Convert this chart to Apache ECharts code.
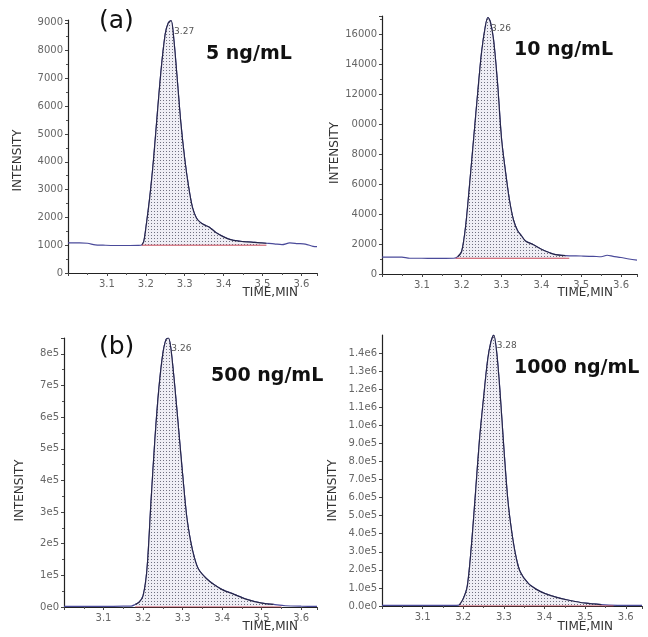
<!DOCTYPE html>
<html><head><meta charset="utf-8">
<script src="https://cdn.jsdelivr.net/npm/echarts@6/dist/echarts.min.js"></script>
<style>html,body{margin:0;padding:0;background:#fff}#c{width:648px;height:637px}</style>
</head><body><div id="c"></div>
<script>
// ---- data ----
const panelLabels = ['(a)', '(b)'];
const concLabels = ['5 ng/mL', '10 ng/mL', '500 ng/mL', '1000 ng/mL'];
const peakLabels = ['3.27', '3.26', '3.26', '3.28'];
const xTicks = ['3.0', '3.1', '3.2', '3.3', '3.4', '3.5', '3.6'];
const xName = 'TIME,MIN';
const yName = 'INTENSITY';

const t1 = [3.00,3.03,3.05,3.07,3.09,3.12,3.15,3.18,3.19,3.195,3.20,3.21,3.22,3.23,3.24,3.25,3.258,3.265,3.272,3.28,3.29,3.30,3.31,3.32,3.33,3.34,3.35,3.36,3.37,3.38,3.40,3.42,3.45,3.48,3.51,3.53,3.55,3.57,3.59,3.61,3.63,3.64];
const v1 = [1080,1080,1070,1010,1000,990,990,995,1010,1150,1600,2700,4100,5800,7400,8600,9000,9080,8400,7100,5400,4100,3100,2350,1980,1820,1730,1670,1570,1460,1300,1190,1130,1100,1070,1050,1020,1080,1060,1040,960,950];

const t2 = [3.00,3.02,3.05,3.07,3.10,3.13,3.16,3.18,3.19,3.20,3.21,3.22,3.23,3.24,3.25,3.26,3.266,3.272,3.28,3.29,3.30,3.31,3.32,3.33,3.34,3.35,3.36,3.38,3.40,3.43,3.46,3.50,3.53,3.55,3.565,3.58,3.60,3.62,3.64];
const v2 = [1130,1130,1120,1050,1050,1040,1040,1050,1150,1500,3200,6000,9000,12000,14800,16600,17100,16800,15600,12700,9000,6800,4900,3600,2900,2550,2200,1950,1650,1330,1220,1200,1180,1150,1250,1180,1100,1000,920];

const t3 = [3.00,3.05,3.10,3.15,3.17,3.18,3.19,3.20,3.21,3.22,3.23,3.24,3.25,3.258,3.264,3.27,3.28,3.29,3.30,3.31,3.32,3.33,3.34,3.36,3.38,3.40,3.43,3.46,3.50,3.53,3.56,3.60,3.64];
const v3 = [2000,2000,2000,2500,3000,8000,15000,35000,120000,330000,530000,690000,800000,845000,850000,820000,700000,560000,420000,290000,210000,155000,120000,90000,70000,55000,40000,25000,12000,8000,4000,2500,2000];

const t4 = [3.00,3.05,3.10,3.15,3.19,3.20,3.21,3.22,3.23,3.24,3.25,3.26,3.268,3.275,3.282,3.29,3.30,3.31,3.32,3.33,3.34,3.36,3.38,3.40,3.43,3.46,3.50,3.54,3.58,3.62,3.64];
const v4 = [3000,3000,3000,3000,5000,40000,110000,330000,620000,920000,1150000,1360000,1460000,1500000,1410000,1200000,870000,580000,400000,270000,190000,125000,92000,70000,48000,32000,16000,8000,4000,3000,3000];

const yTicks1 = ['0','1000','2000','3000','4000','5000','6000','7000','8000','9000'];
const yTicks2 = ['0','2000','4000','6000','8000','10000','12000','14000','16000'];
const yTicks3 = ['0e0','1e5','2e5','3e5','4e5','5e5','6e5','7e5','8e5'];
const yTicks4 = ['0.0e0','1.0e5','2.0e5','3.0e5','4.0e5','5.0e5','6.0e5','7.0e5','8.0e5','9.0e5','1.0e6','1.1e6','1.2e6','1.3e6','1.4e6'];

const peakRanges = [[3.19, 3.51], [3.185, 3.47], [3.18, 3.55], [3.19, 3.57]];
const baselines = [1000, 1050, 0, 0];

// ---- layout ----
const panels = [
  {t: t1, v: v1, ticks: yTicks1, step: 1000, max: 9100, grid: {left: 68, top: 20, width: 249, height: 253}, nameGap: 44, namePad: 28, xNamePos: [298, 287]},
  {t: t2, v: v2, ticks: yTicks2, step: 2000, max: 17200, grid: {left: 382, top: 16, width: 255, height: 258}, nameGap: 38, namePad: 16, xNamePos: [613, 287]},
  {t: t3, v: v3, ticks: yTicks3, step: 100000, max: 850000, grid: {left: 64, top: 338, width: 253, height: 269}, nameGap: 38, namePad: 36, xNamePos: [298, 621]},
  {t: t4, v: v4, ticks: yTicks4, step: 100000, max: 1500000, grid: {left: 382, top: 335, width: 260, height: 271}, nameGap: 43, namePad: 40, xNamePos: [613, 621]}
];

// stipple pattern
const pc = document.createElement('canvas');
pc.width = 3; pc.height = 3;
const pctx = pc.getContext('2d');
pctx.fillStyle = '#efeef5'; pctx.fillRect(0, 0, 3, 3);
pctx.fillStyle = '#707080'; pctx.fillRect(1, 1, 1, 1);

const chart = echarts.init(document.getElementById('c'), null, {renderer: 'canvas'});
const font = 'DejaVu Sans';
const grids = [], xAxes = [], yAxes = [], series = [], graphics = [];
panels.forEach((p, i) => {
  grids.push(Object.assign({containLabel: false}, p.grid));
  xAxes.push({
    type: 'value', gridIndex: i, min: 3.0, max: 3.64, interval: 0.1,
    axisLine: {lineStyle: {color: '#222', width: 1.2}},
    axisTick: {length: 3, lineStyle: {color: '#444'}},
    minorTick: {show: true, splitNumber: 2, length: 2, lineStyle: {color: '#555'}},
    splitLine: {show: false},
    axisLabel: {showMinLabel: false, showMaxLabel: false, fontFamily: font, fontSize: 10, color: '#666', margin: 6,
      formatter: v => xTicks[Math.round((v - 3.0) / 0.1)] || ''}
  });
  yAxes.push({
    type: 'value', gridIndex: i, min: 0, max: p.max, interval: p.step,
    name: yName, nameLocation: 'middle', nameGap: p.nameGap,
    nameTextStyle: {fontFamily: font, fontSize: 12, color: '#333', padding: [0, p.namePad, 0, 0]},
    axisLine: {show: true, lineStyle: {color: '#222', width: 1.2}},
    axisTick: {show: true, length: 3, lineStyle: {color: '#444'}},
    minorTick: {show: i !== 3, splitNumber: 2, length: 2, lineStyle: {color: '#555'}},
    splitLine: {show: false},
    axisLabel: {showMaxLabel: false, fontFamily: font, fontSize: 10, color: '#666', margin: 5,
      formatter: v => {
        const s = p.ticks[Math.round(v / p.step)];
        if (s === undefined) return '';
        if (i === 1 && s === '10000') return '{h|1}0000';
        return s;
      },
      rich: {h: {color: 'rgba(0,0,0,0)', fontFamily: font, fontSize: 10}}
    }
  });
  graphics.push({type: 'text', x: p.xNamePos[0], y: p.xNamePos[1],
    style: {text: xName, fontFamily: font, fontSize: 12, fill: '#333', align: 'right', verticalAlign: 'top'}});
  const data = p.t.map((x, k) => [x, p.v[k]]);
  let pk = 0;
  p.v.forEach((y, k) => { if (y > p.v[pk]) pk = k; });
  const r = peakRanges[i];
  series.push({
    type: 'line', xAxisIndex: i, yAxisIndex: i, data: data, symbol: 'none', smooth: 0.3,
    lineStyle: {color: '#4a4a9a', width: 1.2}, z: 3,
    markPoint: {
      symbol: 'circle', symbolSize: 0,
      data: [{coord: [p.t[pk], p.v[pk]]}],
      label: {show: true, position: 'right', distance: 3, offset: [0, 11], formatter: peakLabels[i],
        fontFamily: font, fontSize: 9, color: '#555'}
    }
  });
  series.push({
    type: 'line', xAxisIndex: i, yAxisIndex: i, symbol: 'none', smooth: 0.3,
    data: data.filter(d => d[0] >= r[0] - 1e-9 && d[0] <= r[1] + 1e-9),
    lineStyle: {color: '#26264a', width: 1.2},
    areaStyle: {origin: baselines[i], color: {image: pc, repeat: 'repeat'}, opacity: 1},
    z: 4, silent: true
  });
  series.push({
    type: 'line', xAxisIndex: i, yAxisIndex: i, symbol: 'none',
    data: r.map(x => [x, baselines[i]]),
    lineStyle: {color: '#c84a5a', width: 1}, z: 5, silent: true
  });
});

const titleFont = {fontFamily: font, fill: '#111'};
graphics.push(
  {type: 'text', left: 99, top: 9, style: Object.assign({text: panelLabels[0], fontSize: 25}, titleFont)},
  {type: 'text', left: 99, top: 335, style: Object.assign({text: panelLabels[1], fontSize: 25}, titleFont)},
  {type: 'text', left: 206, top: 45, style: Object.assign({text: concLabels[0], fontSize: 19, fontWeight: 'bold'}, titleFont)},
  {type: 'text', left: 514, top: 41, style: Object.assign({text: concLabels[1], fontSize: 19, fontWeight: 'bold'}, titleFont)},
  {type: 'text', left: 211, top: 367, style: Object.assign({text: concLabels[2], fontSize: 19, fontWeight: 'bold'}, titleFont)},
  {type: 'text', left: 514, top: 359, style: Object.assign({text: concLabels[3], fontSize: 19, fontWeight: 'bold'}, titleFont)}
);

chart.setOption({
  animation: false,
  backgroundColor: '#fff',
  grid: grids, xAxis: xAxes, yAxis: yAxes, series: series,
  graphic: graphics
});
</script>
</body></html>
